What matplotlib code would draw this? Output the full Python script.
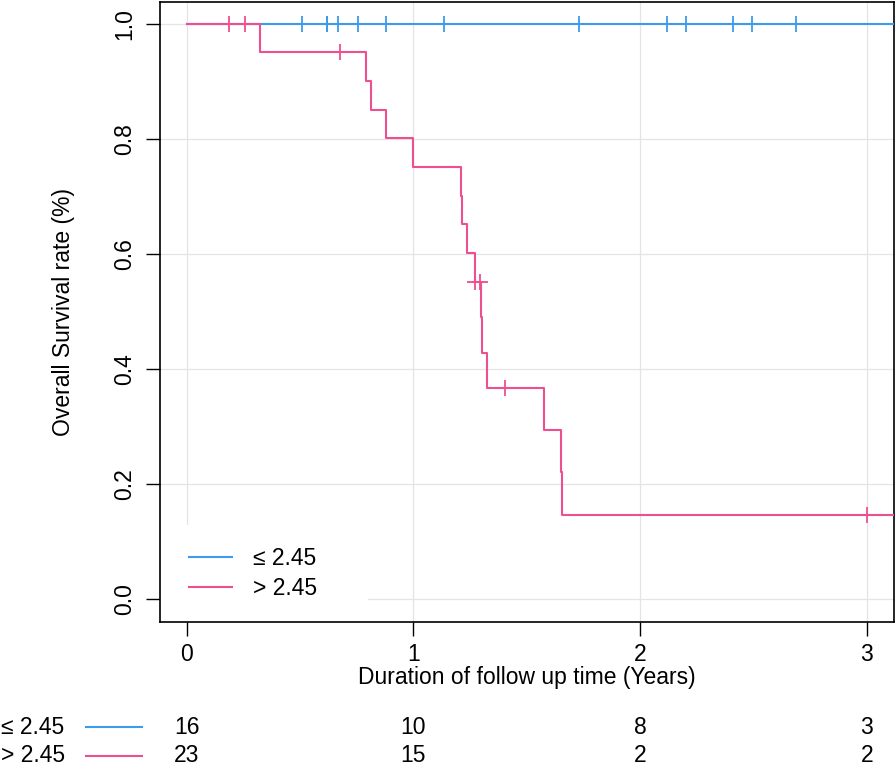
import numpy as np
import matplotlib
matplotlib.use("Agg")
import matplotlib.pyplot as plt
from matplotlib.lines import Line2D
from matplotlib.patches import Rectangle
import matplotlib.transforms as mtransforms

plt.rcParams['font.family'] = ['Liberation Sans', 'DejaVu Sans']

# ---------------- data ----------------
group_labels = ["\u2264 2.45", "> 2.45"]
colors = ["#3D9BEC", "#EE4F91"]

# group <= 2.45 : no events, censored observations only
low_step_times = [0.0, 3.40]
low_step_surv = [1.0, 1.0]
low_censor_times = [0.509, 0.619, 0.621, 0.667, 0.754, 0.879, 1.135, 1.729,
                    2.117, 2.203, 2.408, 2.493, 2.687]

# group > 2.45
high_step_times = [0.0, 0.324, 0.792, 0.812, 0.879, 0.998, 1.208, 1.214, 1.235,
                   1.270, 1.296, 1.302, 1.326, 1.577, 1.650, 1.657, 3.40]
high_step_surv = [1.0, 0.952, 0.902, 0.852, 0.802, 0.752, 0.702, 0.652, 0.602,
                  0.552, 0.491, 0.429, 0.368, 0.294, 0.221, 0.147, 0.147]
high_censor_times = [0.186, 0.256, 0.675, 1.273, 1.293, 1.406, 3.000]

risk_times = [0, 1, 2, 3]
risk_low = [16, 10, 8, 3]
risk_high = [23, 15, 2, 2]

x_ticks = [0, 1, 2, 3]
y_ticks = [0.0, 0.2, 0.4, 0.6, 0.8, 1.0]

# ---------------- figure ----------------
W, H = 896, 770
fig = plt.figure(figsize=(W / 100, H / 100), dpi=100)
L, R, T, B = 159.5, 894.0, 1.5, 622.0
ax = fig.add_axes([L / W, 1 - B / H, (R - L) / W, (B - T) / H])

FS = 16.5
ax.set_xlim(-0.12, 3.12)
ax.set_ylim(-0.04, 1.04)
ax.set_xticks(x_ticks)
ax.set_yticks(y_ticks)
ax.set_xticklabels([str(t) for t in x_ticks])
ax.set_yticklabels([f"{t:.1f}" for t in y_ticks], rotation=90, va='center')
ax.tick_params(axis='both', length=10, width=1.0, labelsize=FS, direction='out')
ax.tick_params(axis='x', pad=5)
ax.tick_params(axis='y', pad=7)
for s in ax.spines.values():
    s.set_linewidth(1.2)
    s.set_color('black')

ax.grid(True, color='#E4E4E4', linewidth=0.9, zorder=0)
ax.set_axisbelow(True)

def step_value(times, surv, t):
    idx = np.searchsorted(np.asarray(times), t, side='right') - 1
    return np.asarray(surv)[idx]

series = [
    (low_step_times, low_step_surv, low_censor_times),
    (high_step_times, high_step_surv, high_censor_times),
]
handles = []
for (st, ss, ct), col, lab in zip(series, colors, group_labels):
    h, = ax.step(st, ss, where='post', color=col, lw=1.5, zorder=3, label=lab)
    ax.plot(ct, step_value(st, ss, ct), linestyle='none', marker='+',
            markersize=12, markeredgewidth=1.3, color=col, zorder=4)
    handles.append(h)

# white legend background
ax.add_patch(Rectangle((0, 0), (368 - L) / (R - L), (B - 525) / (B - T),
                       transform=ax.transAxes, facecolor='white',
                       edgecolor='none', zorder=1))
leg = ax.legend(handles=handles, labels=group_labels, loc='upper left',
                bbox_to_anchor=((189 - L) / (R - L), (B - 547) / (B - T)),
                frameon=False, fontsize=FS, handlelength=1.88,
                handletextpad=0.92, labelspacing=0.31, borderpad=0,
                borderaxespad=0)

ax.set_xlabel("Duration of follow up time (Years)", fontsize=FS)
ax.xaxis.set_label_coords(0.5, (B - 666) / (B - T))
ax.set_ylabel("Overall Survival rate (%)", fontsize=FS)
ax.yaxis.set_label_coords((75 - L) / (R - L), 0.5)

# ---------------- risk table ----------------
blend = mtransforms.blended_transform_factory(ax.transData, fig.transFigure)
row_y = [1 - 727 / H, 1 - 756 / H]
for yv, lab, col, vals in zip(row_y, group_labels, colors, [risk_low, risk_high]):
    fig.text(1 / W, yv, lab, ha='left', va='center', fontsize=FS)
    fig.add_artist(Line2D([86 / W, 142 / W], [yv, yv], color=col, lw=1.5,
                          transform=fig.transFigure))
    for t, v in zip(risk_times, vals):
        ax.text(t, yv, str(v), transform=blend, ha='center', va='center',
                fontsize=FS, clip_on=False)

fig.savefig("out.png", dpi=100)
